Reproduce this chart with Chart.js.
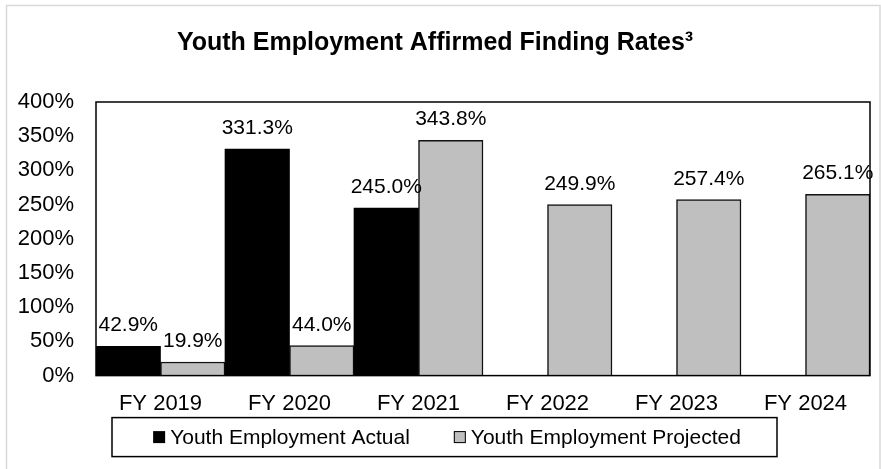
<!DOCTYPE html>
<html>
<head>
<meta charset="utf-8">
<script src="https://cdn.jsdelivr.net/npm/chart.js@4/dist/chart.umd.min.js"></script>
<style>
  body { margin: 0; background: #fff; }
  #wrap { width: 881px; height: 469px; }
</style>
</head>
<body>
<div id="wrap"><canvas id="theChart" width="881" height="469"></canvas></div>
<script>
// chart data
var years = ['FY 2019', 'FY 2020', 'FY 2021', 'FY 2022', 'FY 2023', 'FY 2024'];
var actualRates = [42.9, 331.3, 245.0, null, null, null];
var projectedRates = [19.9, 44.0, 343.8, 249.9, 257.4, 265.1];
var seriesNames = ['Youth Employment Actual', 'Youth Employment Projected'];
var chartTitle = 'Youth Employment Affirmed Finding Rates\u00B3';

var fontFamily = '"Liberation Sans", Arial, sans-serif';

// value labels above each bar
var barLabels = {
  id: 'barLabels',
  afterDatasetsDraw: function(chart) {
    var ctx = chart.ctx;
    ctx.save();
    ctx.font = '21px ' + fontFamily;
    ctx.fillStyle = '#000';
    ctx.textAlign = 'center';
    ctx.textBaseline = 'alphabetic';
    chart.data.datasets.forEach(function(ds, i) {
      chart.getDatasetMeta(i).data.forEach(function(bar, j) {
        var v = ds.data[j];
        if (v === null) return;
        ctx.fillText(v.toFixed(1) + '%', bar.x, bar.y - 15);
      });
    });
    ctx.restore();
  }
};

// plot box, outer frame and the boxed legend
var frames = {
  id: 'frames',
  afterDraw: function(chart) {
    var ctx = chart.ctx;
    var a = chart.chartArea;
    ctx.save();
    // light outer frame (top, left, right)
    ctx.strokeStyle = '#d9d9d9';
    ctx.lineWidth = 1.5;
    ctx.strokeRect(6.5, 5.5, 873.5, 480);
    // plot area box
    ctx.strokeStyle = '#000';
    ctx.lineWidth = 1.5;
    ctx.strokeRect(a.left, a.top, a.right - a.left, a.bottom - a.top);

    // legend
    var top = a.bottom + 42, bottom = a.bottom + 81;
    ctx.strokeRect(112, top, 665, bottom - top);
    ctx.font = '21px ' + fontFamily;
    ctx.textBaseline = 'middle';
    ctx.textAlign = 'left';
    var mid = (top + bottom) / 2;
    var items = chart.data.datasets.map(function(ds) {
      return { ds: ds, w: 12 + 5 + ctx.measureText(ds.label).width };
    });
    var gap = 44;
    var total = items[0].w + gap + items[1].w;
    var x = 447 - total / 2;
    items.forEach(function(it) {
      ctx.fillStyle = it.ds.backgroundColor;
      ctx.fillRect(x, mid - 6, 12, 12);
      if (it.ds.borderWidth) {
        ctx.lineWidth = 1;
        ctx.strokeStyle = '#000';
        ctx.strokeRect(x + 0.5, mid - 5.5, 11, 11);
      }
      ctx.fillStyle = '#000';
      ctx.fillText(it.ds.label, x + 17, mid + 1);
      x += it.w + gap;
    });
    ctx.restore();
  }
};

var chart = new Chart(document.getElementById('theChart').getContext('2d'), {
  type: 'bar',
  data: {
    labels: years,
    datasets: [{
      label: seriesNames[0],
      data: actualRates,
      backgroundColor: '#000000',
      borderWidth: 0
    }, {
      label: seriesNames[1],
      data: projectedRates,
      backgroundColor: '#bfbfbf',
      borderColor: '#111111',
      borderWidth: 1.5
    }]
  },
  options: {
    responsive: false,
    animation: false,
    layout: { padding: { left: 0, right: 11, top: 0, bottom: 37 } },
    datasets: { bar: { categoryPercentage: 1.0, barPercentage: 1.0 } },
    plugins: {
      legend: { display: false },
      tooltip: { enabled: false },
      title: {
        display: true,
        text: chartTitle,
        color: '#000',
        font: { family: fontFamily, size: 25, weight: 'bold' },
        padding: { top: 28, bottom: 44 }
      }
    },
    scales: {
      x: {
        grid: { display: false, drawTicks: false },
        border: { display: false },
        ticks: { color: '#000', padding: 15, font: { family: fontFamily, size: 22 } }
      },
      y: {
        min: 0,
        max: 400,
        grid: { display: false, drawTicks: false },
        border: { display: false },
        afterFit: function(scale) { scale.width = 96; },
        ticks: {
          stepSize: 50,
          color: '#000',
          padding: 22,
          font: { family: fontFamily, size: 22 },
          callback: function(v) { return v + '%'; }
        }
      }
    }
  },
  plugins: [barLabels, frames]
});
</script>
</body>
</html>
